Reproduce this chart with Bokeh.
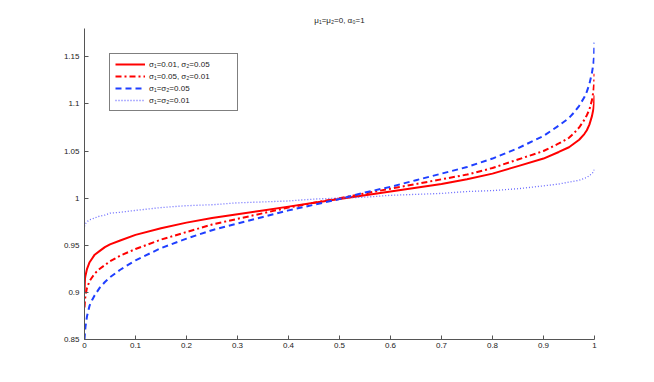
from bokeh.plotting import figure
from bokeh.models import Range1d, FixedTicker, CustomJSTickFormatter, Legend, LegendItem, Title
from bokeh.embed import file_html
from bokeh.resources import INLINE

# ---- data ----
p_grid = [0, 0.001, 0.002, 0.005, 0.01, 0.015, 0.02, 0.03, 0.04, 0.05, 0.07, 0.1, 0.15, 0.2,
          0.25, 0.3, 0.35, 0.4, 0.45, 0.5, 0.55, 0.6, 0.65, 0.7, 0.75, 0.8, 0.85, 0.9, 0.93,
          0.95, 0.96, 0.97, 0.98, 0.985, 0.99, 0.995, 0.998, 0.999, 1]

solid_red = [0.899, 0.915, 0.918, 0.925, 0.932, 0.936, 0.940, 0.944, 0.948, 0.951, 0.955,
             0.961, 0.968, 0.974, 0.979, 0.983, 0.987, 0.991, 0.995, 0.999, 1.003, 1.007,
             1.011, 1.015, 1.020, 1.026, 1.034, 1.042, 1.049, 1.054, 1.058, 1.062, 1.068,
             1.072, 1.078, 1.087, 1.095, 1.100, 1.109]

dashdot_red = [0.884, 0.892, 0.897, 0.905, 0.912, 0.916, 0.920, 0.925, 0.929, 0.933, 0.939,
               0.946, 0.956, 0.964, 0.972, 0.978, 0.984, 0.990, 0.995, 1.000, 1.005, 1.010,
               1.015, 1.020, 1.025, 1.032, 1.041, 1.050, 1.058, 1.064, 1.069, 1.075, 1.083,
               1.088, 1.094, 1.104, 1.114, 1.120, 1.132]

dashed_blue = [0.850, 0.858, 0.864, 0.875, 0.886, 0.892, 0.897, 0.905, 0.911, 0.916, 0.924,
               0.934, 0.947, 0.957, 0.966, 0.973, 0.980, 0.987, 0.993, 0.999, 1.006, 1.012,
               1.019, 1.026, 1.033, 1.042, 1.053, 1.066, 1.077, 1.085, 1.091, 1.098, 1.107,
               1.113, 1.121, 1.133, 1.143, 1.150, 1.165]

dotted_blue = [0.970, 0.972, 0.973, 0.975, 0.977, 0.978, 0.979, 0.981, 0.982, 0.984, 0.985,
               0.987, 0.990, 0.992, 0.993, 0.995, 0.996, 0.997, 0.999, 1.000, 1.001, 1.003,
               1.004, 1.005, 1.007, 1.008, 1.010, 1.013, 1.015, 1.017, 1.018, 1.019, 1.021,
               1.022, 1.024, 1.026, 1.028, 1.029, 1.031]

legend_labels = ["σ₁=0.01, σ₂=0.05", "σ₁=0.05, σ₂=0.01", "σ₁=σ₂=0.05", "σ₁=σ₂=0.01"]
x_ticks = [0, 0.1, 0.2, 0.3, 0.4, 0.5, 0.6, 0.7, 0.8, 0.9, 1]
y_ticks = [0.85, 0.9, 0.95, 1, 1.05, 1.1, 1.15]
title_text = "μ₁=μ₂=0, α₀=1"

FONT = "Liberation Sans"

p = figure(width=638, height=366, output_backend="svg", toolbar_location=None,
           x_range=Range1d(0, 1), y_range=Range1d(0.85, 1.18),
           min_border_left=84, min_border_right=44, min_border_top=28, min_border_bottom=27)
p.title = Title(text=title_text, align="center", text_font=FONT, text_font_size="8px",
                text_font_style="normal", text_color="#222222", standoff=7)
p.outline_line_color = None
p.xgrid.visible = False
p.ygrid.visible = False

fmt = CustomJSTickFormatter(code="""
const d = Math.abs(tick - Math.round(tick*10)/10) < 1e-9 ? 1 : 2;
return tick.toFixed(d).replace(/\\.?0+$/, '');
""")
for ax, ticks in ((p.xaxis, x_ticks), (p.yaxis, y_ticks)):
    ax.ticker = FixedTicker(ticks=ticks)
    ax.formatter = fmt
    ax.major_tick_in = 4
    ax.major_tick_out = 0
    ax.minor_tick_line_color = None
    ax.axis_line_color = "#555555"
    ax.major_tick_line_color = "#555555"
    ax.major_label_text_font = FONT
    ax.major_label_text_font_size = "8px"
    ax.major_label_text_color = "#222222"
p.xaxis.major_label_standoff = 3
p.yaxis.major_label_standoff = 5

r1 = p.line(p_grid, solid_red, line_color="#ff0000", line_width=2)
r2 = p.line(p_grid, dashdot_red, line_color="#ff0000", line_width=2, line_dash="6 3 2 3")
r3 = p.line(p_grid, dashed_blue, line_color="#1f3fff", line_width=2, line_dash="6 4")
r4 = p.line(p_grid, dotted_blue, line_color="#4f4fff", line_width=1.3, line_dash="1 2",
            line_alpha=0.85)

legend = Legend(items=[LegendItem(label=legend_labels[i], renderers=[r])
                       for i, r in enumerate([r1, r2, r3, r4])],
                location=(25, 228), glyph_width=30, glyph_height=10, label_height=10,
                label_width=83,
                label_text_font=FONT, label_text_font_size="8px", label_text_color="#222222",
                spacing=2, padding=5, margin=0, label_standoff=4,
                border_line_color="#000000", border_line_width=1, background_fill_alpha=1)
p.add_layout(legend, "center")

open("out.html", "w").write(file_html(p, INLINE))
